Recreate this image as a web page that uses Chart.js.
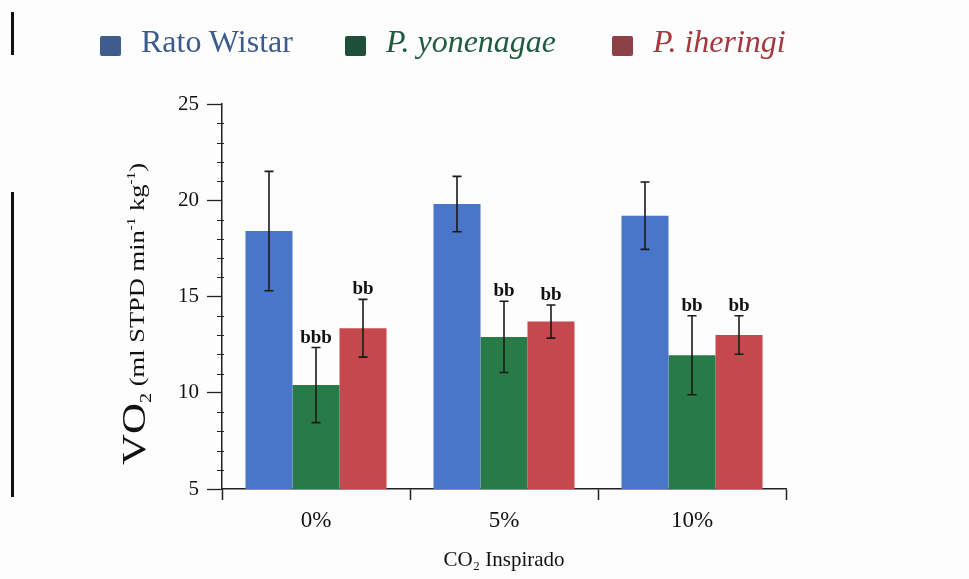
<!DOCTYPE html>
<html>
<head>
<meta charset="utf-8">
<script src="https://cdn.jsdelivr.net/npm/chart.js@4.4.1/dist/chart.umd.min.js"></script>
<style>
    html, body { margin: 0; padding: 0; background: #fdfdfd; }
    #wrap { position: relative; width: 969px; height: 579px; overflow: hidden; }
    #chart { position: absolute; left: 0; top: 0; }
    .legend { position: absolute; top: 0; left: 0; font-family: "Liberation Serif", serif; font-size: 32px; white-space: nowrap; }
    .legend span.box { position: absolute; top: 36px; width: 21px; height: 20px; border-radius: 2px; }
    .legend span.txt { position: absolute; top: 23px; }
    .scan { position: absolute; left: 11px; width: 3px; background: #111; }
</style>
</head>
<body>
<div id="wrap">
    <canvas id="chart" width="969" height="579"></canvas>
    <div class="legend" id="legend"></div>
    <div class="scan" style="top:12px;height:43px"></div>
    <div class="scan" style="top:192px;height:305px"></div>
</div>
<script>
const categories = ['0%', '5%', '10%'];
const seriesNames = ['Rato Wistar', 'P. yonenagae', 'P. iheringi'];

const ratoWistar = [18.4, 19.8, 19.2];
const ratoWistarErr = [3.1, 1.44, 1.75];
const yonenagae = [10.4, 12.9, 11.95];
const yonenagaeErr = [1.95, 1.85, 2.05];
const iheringi = [13.35, 13.7, 13.0];
const iheringiErr = [1.5, 0.86, 1.0];

const ratoWistarSig = ['', '', ''];
const yonenagaeSig = ['bbb', 'bb', 'bb'];
const iheringiSig = ['bb', 'bb', 'bb'];

const yMin = 5, yMax = 25, yStep = 5;

const barColors = ['#4a76c9', '#287a47', '#c4484e'];
const legendBoxColors = ['#3f5c8d', '#1f4e3b', '#8e4049'];
const legendTextColors = ['#3b5b8f', '#1f5a41', '#a5383d'];
const legendItalic = [false, true, true];
const legendX = [100, 345, 612];

const serif = '"Liberation Serif", "Times New Roman", serif';

// legend in html, one item per series
const legendEl = document.getElementById('legend');
seriesNames.forEach((name, i) => {
    const box = document.createElement('span');
    box.className = 'box';
    box.style.left = legendX[i] + 'px';
    box.style.background = legendBoxColors[i];
    const txt = document.createElement('span');
    txt.className = 'txt';
    txt.style.left = (legendX[i] + 41) + 'px';
    txt.style.color = legendTextColors[i];
    if (legendItalic[i]) txt.style.fontStyle = 'italic';
    txt.textContent = name;
    legendEl.appendChild(box);
    legendEl.appendChild(txt);
});

const errors = [ratoWistarErr, yonenagaeErr, iheringiErr];
const sigs = [ratoWistarSig, yonenagaeSig, iheringiSig];

// error bars + significance letters
const errorBarPlugin = {
    id: 'errorBars',
    afterDatasetsDraw(chart) {
        const ctx = chart.ctx;
        const y = chart.scales.y;
        ctx.save();
        ctx.strokeStyle = '#1a1a1a';
        ctx.lineWidth = 1.6;
        chart.data.datasets.forEach((ds, i) => {
            const meta = chart.getDatasetMeta(i);
            meta.data.forEach((bar, j) => {
                const v = ds.data[j];
                const e = errors[i][j];
                const top = y.getPixelForValue(v + e);
                const bot = y.getPixelForValue(v - e);
                ctx.beginPath();
                ctx.moveTo(bar.x, top);
                ctx.lineTo(bar.x, bot);
                ctx.moveTo(bar.x - 4.5, top);
                ctx.lineTo(bar.x + 4.5, top);
                ctx.moveTo(bar.x - 4.5, bot);
                ctx.lineTo(bar.x + 4.5, bot);
                ctx.stroke();
                if (sigs[i][j]) {
                    ctx.fillStyle = '#111';
                    ctx.font = 'bold 19px ' + serif;
                    ctx.textAlign = 'center';
                    ctx.textBaseline = 'alphabetic';
                    ctx.fillText(sigs[i][j], bar.x, top - 5);
                }
            });
        });
        ctx.restore();
    }
};

// minor ticks on y axis + rotated y title with sub/superscripts
const axisExtras = {
    id: 'axisExtras',
    afterDraw(chart) {
        const ctx = chart.ctx;
        const y = chart.scales.y;
        const x0 = chart.chartArea.left;
        ctx.save();
        ctx.strokeStyle = '#222';
        ctx.lineWidth = 1;
        for (let v = yMin + 1; v < yMax; v++) {
            if (v % yStep === 0) continue;
            const py = Math.round(y.getPixelForValue(v)) + 0.5;
            ctx.beginPath();
            ctx.moveTo(x0 - 5, py);
            ctx.lineTo(x0 + 2, py);
            ctx.stroke();
        }

        const parts = [
            { t: 'VO', size: 34, dy: 0 },
            { t: '2', size: 16, dy: 6 },
            { t: ' (ml STPD min', size: 21, dy: -1 },
            { t: '-1', size: 12, dy: -10 },
            { t: ' kg', size: 21, dy: -1 },
            { t: '-1', size: 12, dy: -10 },
            { t: ')', size: 21, dy: -1 }
        ];
        let total = 0;
        parts.forEach(p => {
            ctx.font = p.size + 'px ' + serif;
            p.w = ctx.measureText(p.t).width;
            total += p.w;
        });
        // the scanned title is stretched along its length
        const stretch = 302 / total;
        ctx.translate(145, 314);
        ctx.rotate(-Math.PI / 2);
        ctx.scale(stretch, 1);
        ctx.fillStyle = '#111';
        ctx.textBaseline = 'alphabetic';
        ctx.textAlign = 'left';
        let cx = -total / 2;
        parts.forEach(p => {
            ctx.font = p.size + 'px ' + serif;
            ctx.fillText(p.t, cx, p.dy);
            cx += p.w;
        });
        ctx.restore();
    }
};

new Chart(document.getElementById('chart'), {
    type: 'bar',
    data: {
        labels: categories,
        datasets: [
            { label: seriesNames[0], data: ratoWistar, backgroundColor: barColors[0] },
            { label: seriesNames[1], data: yonenagae, backgroundColor: barColors[1] },
            { label: seriesNames[2], data: iheringi, backgroundColor: barColors[2] }
        ]
    },
    options: {
        responsive: false,
        animation: false,
        layout: { padding: { top: 104, right: 183, left: 0, bottom: 0 } },
        datasets: {
            bar: { categoryPercentage: 0.75, barPercentage: 1, borderWidth: 0 }
        },
        plugins: {
            legend: { display: false },
            tooltip: { enabled: false }
        },
        scales: {
            x: {
                afterFit: s => { s.height = 90; },
                border: { display: true, color: '#222', width: 1.5 },
                grid: { offset: true, drawOnChartArea: false, color: '#222', tickLength: 11, tickWidth: 1.5 },
                ticks: { color: '#111', font: { family: serif, size: 23 }, padding: 7 },
                title: {
                    display: true,
                    text: 'CO₂ Inspirado',
                    color: '#111',
                    font: { family: serif, size: 21 },
                    padding: { top: 0, bottom: 6 }
                }
            },
            y: {
                min: yMin,
                max: yMax,
                afterFit: s => { s.width = 222; },
                border: { display: true, color: '#222', width: 1.5 },
                grid: { drawOnChartArea: false, color: '#222', tickLength: 15, tickWidth: 1.3 },
                ticks: {
                    stepSize: yStep,
                    color: '#111',
                    font: { family: serif, size: 21 },
                    padding: 8
                }
            }
        }
    },
    plugins: [errorBarPlugin, axisExtras]
});
</script>
</body>
</html>
